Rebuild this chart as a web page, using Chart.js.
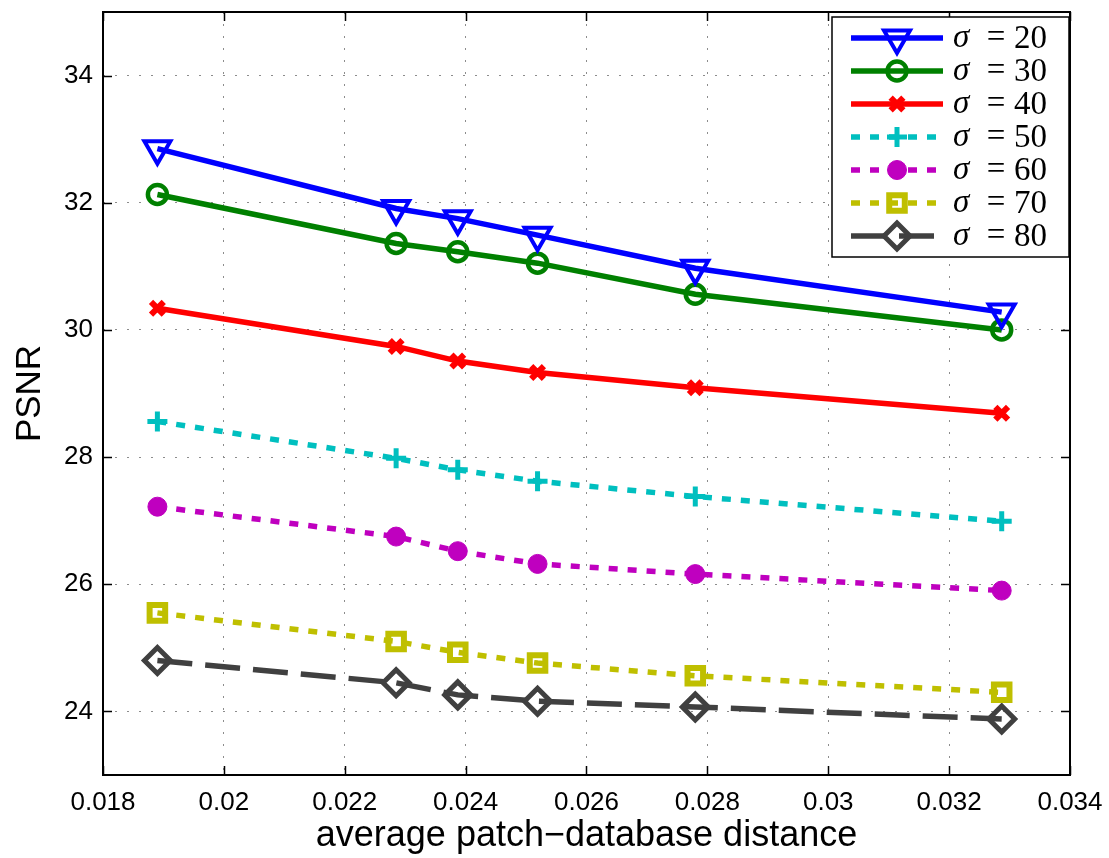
<!DOCTYPE html>
<html>
<head>
<meta charset="utf-8">
<script src="https://cdn.jsdelivr.net/npm/chart.js@4.4.1/dist/chart.umd.min.js"></script>
<style>
  html, body { margin: 0; padding: 0; background: #fff; }
  #wrap { width: 1109px; height: 858px; position: relative; }
</style>
</head>
<body>
<div id="wrap"><canvas id="chart"></canvas></div>
<script>
// average patch-database distance (x)
const distances = [0.0189, 0.02285, 0.02387, 0.02519, 0.0278, 0.03287];

// PSNR per noise level
const psnrSigma20 = [32.85, 31.91, 31.75, 31.49, 30.97, 30.28];
const psnrSigma30 = [32.13, 31.36, 31.23, 31.05, 30.56, 30.00];
const psnrSigma40 = [30.34, 29.74, 29.51, 29.33, 29.09, 28.69];
const psnrSigma50 = [28.56, 27.98, 27.80, 27.62, 27.38, 26.99];
const psnrSigma60 = [27.22, 26.75, 26.52, 26.32, 26.16, 25.90];
const psnrSigma70 = [25.55, 25.10, 24.93, 24.76, 24.56, 24.30];
const psnrSigma80 = [24.80, 24.45, 24.26, 24.16, 24.07, 23.88];

const sigmaLabels = ['20', '30', '40', '50', '60', '70', '80'];

const xTicks = [0.018, 0.020, 0.022, 0.024, 0.026, 0.028, 0.030, 0.032, 0.034];
const xTickLabels = ['0.018', '0.02', '0.022', '0.024', '0.026', '0.028', '0.03', '0.032', '0.034'];
const yTicks = [24, 26, 28, 30, 32, 34];
const yTickLabels = ['24', '26', '28', '30', '32', '34'];

// matlab 스타일 선/마커
const SERIES_STYLES = [
  { color: '#0000ff', dash: [],       point: 'triangle', rotation: 180, radius: 15, pw: 4, filled: false },
  { color: '#008000', dash: [],       point: 'circle',   rotation: 0,   radius: 9.5, pw: 4.5, filled: false },
  { color: '#ff0000', dash: [],       point: 'crossRot', rotation: 0,   radius: 9,  pw: 6, filled: false },
  { color: '#00bfbf', dash: [9, 10],  point: 'cross',    rotation: 0,   radius: 10, pw: 5, filled: false },
  { color: '#bf00bf', dash: [9, 10],  point: 'circle',   rotation: 0,   radius: 9.5, pw: 1, filled: true },
  { color: '#bfbf00', dash: [9, 10],  point: 'rect',     rotation: 0,   radius: 11, pw: 6, filled: false },
  { color: '#404040', dash: [35, 13], point: 'rectRot',  rotation: 0,   radius: 13, pw: 5, filled: false }
];

const seriesValues = [psnrSigma20, psnrSigma30, psnrSigma40, psnrSigma50, psnrSigma60, psnrSigma70, psnrSigma80];

const datasets = seriesValues.map((vals, i) => {
  const s = SERIES_STYLES[i];
  return {
    label: 'σ = ' + sigmaLabels[i],
    data: vals.map((v, j) => ({ x: distances[j], y: v })),
    borderColor: s.color,
    borderWidth: 5.5,
    borderDash: s.dash,
    fill: false,
    tension: 0,
    pointStyle: s.point,
    pointRotation: s.rotation,
    pointRadius: s.radius,
    pointBorderWidth: s.pw,
    pointBorderColor: s.color,
    pointBackgroundColor: s.filled ? s.color : 'rgba(0,0,0,0)',
    clip: false
  };
});

const SANS = '"Liberation Sans", Arial, Helvetica, sans-serif';
const SERIF = '"Liberation Serif", "Times New Roman", serif';

// 축 박스, 안쪽 눈금, 범례 그리기
const matlabAxes = {
  id: 'matlabAxes',
  afterDatasetsDraw(chart) {
    const { ctx, chartArea: a, scales } = chart;
    ctx.save();
    ctx.strokeStyle = '#000';
    ctx.lineWidth = 1.5;
    ctx.setLineDash([]);
    const tl = 9;
    ctx.beginPath();
    yTicks.forEach(v => {
      const py = Math.round(scales.y.getPixelForValue(v)) + 0.5;
      ctx.moveTo(a.left, py); ctx.lineTo(a.left + tl, py);
      ctx.moveTo(a.right, py); ctx.lineTo(a.right - tl, py);
    });
    xTicks.forEach(v => {
      const px = Math.round(scales.x.getPixelForValue(v)) + 0.5;
      ctx.moveTo(px, a.bottom); ctx.lineTo(px, a.bottom - tl);
      ctx.moveTo(px, a.top); ctx.lineTo(px, a.top + tl);
    });
    ctx.stroke();
    ctx.lineWidth = 2;
    ctx.strokeRect(a.left, a.top, a.right - a.left, a.bottom - a.top);
    ctx.restore();
    drawLegend(chart);
  }
};

function drawLegend(chart) {
  const { ctx, chartArea: a } = chart;
  const w = 237, h = 240;
  const left = a.right - w - 1;
  const top = a.top + 5;
  ctx.save();
  ctx.fillStyle = '#fff';
  ctx.fillRect(left, top, w, h);
  ctx.strokeStyle = '#000';
  ctx.lineWidth = 1.5;
  ctx.strokeRect(left, top, w, h);

  chart.data.datasets.forEach((ds, i) => {
    const s = SERIES_STYLES[i];
    const y = top + 21 + i * 33;
    ctx.save();
    ctx.strokeStyle = s.color;
    ctx.lineWidth = 5.5;
    ctx.setLineDash(s.dash);
    ctx.beginPath();
    ctx.moveTo(left + 19, y);
    ctx.lineTo(left + 111, y);
    ctx.stroke();
    ctx.setLineDash([]);
    ctx.strokeStyle = s.color;
    ctx.fillStyle = s.filled ? s.color : 'rgba(0,0,0,0)';
    ctx.lineWidth = s.pw;
    Chart.helpers.drawPoint(ctx, {
      pointStyle: s.point, rotation: s.rotation, radius: s.radius, borderWidth: s.pw
    }, left + 65, y);
    ctx.restore();

    ctx.fillStyle = '#000';
    ctx.textBaseline = 'middle';
    ctx.textAlign = 'left';
    ctx.font = 'italic 33px ' + SERIF;
    ctx.fillText('σ', left + 121, y);
    ctx.textAlign = 'center';
    ctx.font = '33px ' + SERIF;
    ctx.fillText('=', left + 164, y);
    ctx.textAlign = 'left';
    ctx.fillText(sigmaLabels[i], left + 182, y + 1);
  });
  ctx.restore();
}

new Chart(document.getElementById('chart'), {
  type: 'line',
  data: { datasets: datasets },
  options: {
    responsive: true,
    maintainAspectRatio: false,
    animation: false,
    layout: { autoPadding: false, padding: { left: 0, right: 39, top: 12, bottom: 0 } },
    plugins: {
      legend: { display: false },
      tooltip: { enabled: false }
    },
    scales: {
      x: {
        type: 'linear',
        min: 0.018,
        max: 0.034,
        afterBuildTicks: s => { s.ticks = xTicks.map(v => ({ value: v })); },
        afterFit: s => { s.height = 83; s.paddingLeft = 0; s.paddingRight = 0; },
        ticks: {
          autoSkip: false,
          maxRotation: 0,
          padding: 12,
          color: '#000',
          font: { family: SANS, size: 26 },
          callback: (v, i) => xTickLabels[i]
        },
        grid: { color: '#8c8c8c', lineWidth: 1, drawTicks: false },
        border: { display: false, dash: [2, 10] },
        title: {
          display: true,
          text: 'average patch−database distance',
          color: '#000',
          font: { family: SANS, size: 36 },
          padding: { top: 0, bottom: 0 }
        }
      },
      y: {
        min: 23,
        max: 35,
        afterBuildTicks: s => { s.ticks = yTicks.map(v => ({ value: v })); },
        afterFit: s => { s.width = 103; s.paddingTop = 0; s.paddingBottom = 0; },
        ticks: {
          padding: 10,
          color: '#000',
          font: { family: SANS, size: 26 },
          callback: (v, i) => yTickLabels[i]
        },
        grid: { color: '#8c8c8c', lineWidth: 1, drawTicks: false },
        border: { display: false, dash: [2, 10] },
        title: {
          display: true,
          text: 'PSNR',
          color: '#000',
          font: { family: SANS, size: 35 },
          padding: { top: 9, bottom: 0 }
        }
      }
    }
  },
  plugins: [matlabAxes]
});
</script>
</body>
</html>
